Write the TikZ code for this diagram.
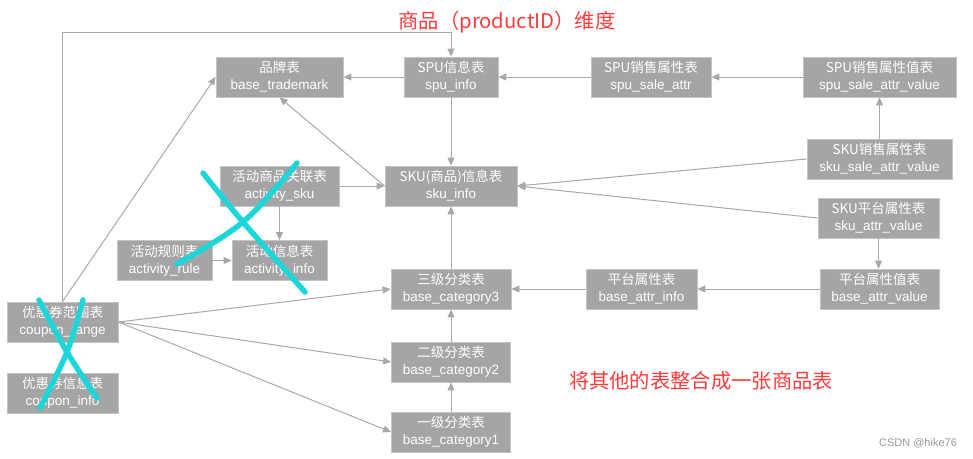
\documentclass[tikz,border=0pt]{standalone}
\usepackage{fontspec}
\setmainfont{Noto Sans CJK SC}
\newfontfamily\cjk{Noto Sans CJK SC}
\newfontfamily\lat{Liberation Sans}
\usetikzlibrary{arrows.meta}
\definecolor{boxgray}{HTML}{A5A5A5}
\definecolor{boxedge}{HTML}{C4C4C4}
\definecolor{linegray}{HTML}{A8A8A8}
\definecolor{titlered}{HTML}{FF3B3B}
\definecolor{markcyan}{RGB}{28,214,218}
\newcommand{\tname}[1]{{\lat #1}}
\tikzset{
  tbl/.style={rectangle, fill=boxgray, draw=boxedge, line width=0.8pt, text=white,
    align=center, inner sep=0pt, minimum height=40pt,
    font=\cjk\fontsize{13.5}{17}\selectfont},
  conn/.style={draw=linegray, line width=1pt,
    -{Triangle[length=8pt,width=7pt]}, color=linegray},
  xmark/.style={draw=markcyan, line width=5.5pt, line cap=round, line join=round},
  redtext/.style={text=titlered, font=\cjk\fontsize{20.3}{23}\selectfont},
}
\begin{document}
\begin{tikzpicture}[x=1pt,y=-1pt]
\useasboundingbox (0,0) rectangle (973,458);
% nodes
\node[tbl, minimum width=127pt] (trademark) at (279.5,77) {品牌表\\\tname{base\_trademark}};
\node[tbl, minimum width=94pt] (spu) at (451,77) {SPU信息表\\\tname{spu\_info}};
\node[tbl, minimum width=120pt] (spusale) at (651,77) {SPU销售属性表\\\tname{spu\_sale\_attr}};
\node[tbl, minimum width=153pt] (spusaleval) at (879.5,77) {SPU销售属性值表\\\tname{spu\_sale\_attr\_value}};
\node[tbl, minimum width=145pt] (skusale) at (879.5,159) {SKU销售属性表\\\tname{sku\_sale\_attr\_value}};
\node[tbl, minimum width=121pt] (skuattr) at (878.5,218) {SKU平台属性表\\\tname{sku\_attr\_value}};
\node[tbl, minimum width=119pt] (attrval) at (879.5,289) {平台属性值表\\\tname{base\_attr\_value}};
\node[tbl, minimum width=111pt] (attrinfo) at (641.5,289) {平台属性表\\\tname{base\_attr\_info}};
\node[tbl, minimum width=120pt] (cat3) at (451,289) {三级分类表\\\tname{base\_category3}};
\node[tbl, minimum width=132pt] (skuinfo) at (451,186) {SKU(商品)信息表\\\tname{sku\_info}};
\node[tbl, minimum width=119pt] (actsku) at (279.5,186) {活动商品关联表\\\tname{activity\_sku}};
\node[tbl, minimum width=95pt] (actrule) at (164.5,260.5) {活动规则表\\\tname{activity\_rule}};
\node[tbl, minimum width=95pt] (actinfo) at (279.5,260.5) {活动信息表\\\tname{activity\_info}};
\node[tbl, minimum width=111pt] (couponrange) at (62.5,322) {优惠券范围表\\\tname{coupon\_range}};
\node[tbl, minimum width=111pt] (couponinfo) at (62.5,393) {优惠券信息表\\\tname{coupon\_info}};
\node[tbl, minimum width=119pt] (cat2) at (451,362) {二级分类表\\\tname{base\_category2}};
\node[tbl, minimum width=119pt] (cat1) at (451,432) {一级分类表\\\tname{base\_category1}};
% texts
\node[redtext] (title) at (507,22) {商品（productID）维度};
\node[redtext] (merge) at (701,381) {将其他的表整合成一张商品表};
\node[text=gray!80, font=\lat\fontsize{11}{13}\selectfont] (csdn) at (918,443) {CSDN @hike76};
% connectors
\coordinate (topbend) at (62.5,32);
\draw[conn] (couponrange.north) -- (topbend) -| (spu.north);
\draw[conn] (couponrange.north) -- (trademark.west);
\draw[conn] (spu.west) -- (trademark.east);
\draw[conn] (spusale.west) -- (spu.east);
\draw[conn] (spusaleval.west) -- (spusale.east);
\draw[conn] (skusale.north) -- (spusaleval.south);
\draw[conn] (spu.south) -- (skuinfo.north);
\draw[conn] (skuinfo.west) -- (trademark.south);
\draw[conn] (actsku.east) -- (skuinfo.west);
\draw[conn] (actsku.south) -- (actinfo.north);
\draw[conn] (actrule.east) -- (actinfo.west);
\draw[conn] (skusale.west) -- (skuinfo.east);
\draw[conn] (skuattr.west) -- (skuinfo.east);
\draw[conn] (skuattr.south) -- (skuattr.south |- attrval.north);
\draw[conn] (attrval.west) -- (attrinfo.east);
\draw[conn] (attrinfo.west) -- (cat3.east);
\draw[conn] (cat3.north) -- (skuinfo.south);
\draw[conn] (cat2.north) -- (cat2.north |- cat3.south);
\draw[conn] (cat1.north) -- (cat2.south);
\draw[conn] (couponrange.east) -- (cat3.west);
\draw[conn] (couponrange.east) -- (cat2.west);
\draw[conn] (couponrange.east) -- (cat1.west);
% cyan cross marks
\draw[xmark] plot[smooth, tension=0.6] coordinates {(203,173) (243,222) (305,292)};
\draw[xmark] plot[smooth, tension=0.6] coordinates {(297,163) (243,222) (177,264)};
\draw[xmark] plot[smooth, tension=0.6] coordinates {(39,300) (67,352) (97,398)};
\draw[xmark] plot[smooth, tension=0.6] coordinates {(83,300) (67,352) (40,408)};
\end{tikzpicture}
\end{document}
